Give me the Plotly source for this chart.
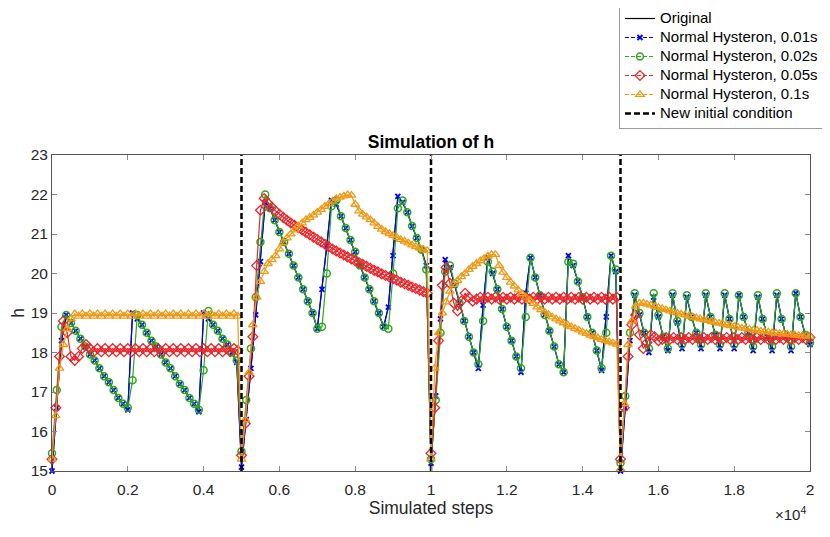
import plotly.graph_objects as go

# step spacing of the sampled points
STEP_FAST = 125   # 0.01s / 0.02s hysterons (and original)
STEP_SLOW = 100   # 0.05s / 0.1s hysterons

ic_steps = [5000, 10000, 15000]
x_tickvals = [0, 2000, 4000, 6000, 8000, 10000, 12000, 14000, 16000, 18000, 20000]
x_ticktext = ['0', '0.2', '0.4', '0.6', '0.8', '1', '1.2', '1.4', '1.6', '1.8', '2']

# Normal Hysteron, 0.01s
h_001 = [
    15.0, 16.6, 18.3, 18.95, 18.75, 18.55, 18.35, 18.15, 17.95, 17.8,
    17.6, 17.4, 17.25, 17.05, 16.85, 16.7, 16.55, 19.0, 18.85, 18.7,
    18.5, 18.3, 18.15, 17.95, 17.75, 17.6, 17.4, 17.2, 17.05, 16.85,
    16.7, 16.5, 19.0, 18.85, 18.7, 18.55, 18.35, 18.2, 18.0, 17.75,
    15.1, 16.3, 17.6, 18.95, 20.3, 21.8, 21.65, 21.35, 21.05, 20.8,
    20.5, 20.2, 19.9, 19.6, 19.3, 19.0, 18.6, 19.6, 20.7, 21.85,
    21.75, 21.45, 21.15, 20.85, 20.55, 20.2, 19.9, 19.6, 19.3, 19.0,
    18.65, 19.15, 20.45, 21.95, 21.8, 21.55, 21.2, 20.9, 20.6, 20.2,
    15.2, 16.9, 18.85, 20.35, 20.15, 19.7, 19.25, 18.8, 18.4, 18.0,
    17.6, 19.2, 20.4, 20.0, 19.6, 19.1, 18.65, 18.3, 17.9, 17.5,
    19.5, 20.4, 19.9, 19.45, 18.95, 18.55, 18.15, 17.7, 17.5, 20.45,
    20.2, 19.8, 19.4, 18.9, 18.5, 18.05, 17.55, 18.9, 20.45, 20.05,
    15.0, 16.6, 18.3, 19.45, 18.95, 18.5, 18.0, 19.4, 18.9, 18.4,
    18.05, 19.45, 18.75, 18.1, 19.4, 18.9, 18.5, 18.1, 19.45, 18.9,
    18.45, 18.1, 19.45, 18.85, 18.1, 19.45, 18.9, 18.5, 18.05, 19.4,
    18.85, 18.4, 18.05, 19.45, 18.85, 18.4, 18.05, 19.5, 18.9, 18.45,
    18.2,
]

# the original system lies under the 0.01s hysteron curve
h_original = h_001

# Normal Hysteron, 0.02s
h_002 = [
    15.45, 17.05, 18.65, 18.95, 18.75, 18.55, 18.35, 18.15, 17.95, 17.8,
    17.6, 17.4, 17.25, 17.05, 16.85, 16.7, 16.6, 17.3, 18.95, 18.7,
    18.5, 18.3, 18.15, 17.95, 17.75, 17.6, 17.4, 17.2, 17.05, 16.85,
    16.7, 16.55, 17.55, 19.05, 18.7, 18.55, 18.35, 18.2, 18.0, 17.8,
    15.5, 16.8, 18.1, 19.4, 20.8, 22.0, 21.65, 21.35, 21.05, 20.8,
    20.5, 20.2, 19.9, 19.6, 19.3, 19.0, 18.6, 18.65, 20.0, 21.7,
    21.85, 21.45, 21.15, 20.85, 20.55, 20.2, 19.9, 19.6, 19.3, 19.0,
    18.65, 18.6, 20.0, 21.65, 21.85, 21.55, 21.2, 20.9, 20.6, 20.1,
    15.3, 16.8, 18.5, 20.05, 20.2, 19.75, 19.25, 18.8, 18.4, 18.0,
    17.7, 18.8, 20.3, 20.05, 19.6, 19.1, 18.65, 18.3, 17.9, 17.6,
    18.9, 20.4, 19.9, 19.45, 18.95, 18.55, 18.15, 17.7, 17.5, 20.3,
    20.25, 19.8, 19.4, 18.9, 18.5, 18.05, 17.6, 18.5, 20.45, 20.1,
    15.2, 16.9, 18.5, 19.5, 19.0, 18.5, 18.1, 19.5, 18.95, 18.4,
    18.1, 19.5, 18.8, 18.2, 19.45, 18.9, 18.5, 18.2, 19.5, 18.9,
    18.45, 18.2, 19.5, 18.85, 18.2, 19.45, 18.9, 18.5, 18.15, 19.45,
    18.85, 18.4, 18.15, 19.5, 18.85, 18.4, 18.15, 19.5, 18.9, 18.45,
    18.25,
]

# Normal Hysteron, 0.05s
h_005 = [
    15.3, 16.6, 17.9, 18.8, 18.5, 17.9, 17.8, 17.9, 18.1, 18.2,
    18.1, 18.02, 18.1, 18.02, 18.1, 18.02, 18.1, 18.02, 18.1, 18.02,
    18.1, 18.02, 18.1, 18.02, 18.1, 18.02, 18.1, 18.02, 18.1, 18.02,
    18.1, 18.02, 18.1, 18.02, 18.1, 18.02, 18.1, 18.02, 18.1, 18.02,
    18.1, 18.02, 18.1, 18.02, 18.1, 18.02, 18.1, 18.02, 18.1, 18.05,
    15.4, 16.2, 17.4, 18.4, 20.2, 21.6, 21.9, 21.78, 21.68, 21.58,
    21.5, 21.42, 21.35, 21.28, 21.22, 21.16, 21.1, 21.04, 20.98, 20.92,
    20.86, 20.8, 20.74, 20.68, 20.62, 20.57, 20.52, 20.47, 20.42, 20.37,
    20.32, 20.28, 20.23, 20.18, 20.13, 20.08, 20.04, 19.99, 19.95, 19.91,
    19.87, 19.83, 19.78, 19.74, 19.7, 19.66, 19.62, 19.58, 19.54, 19.5,
    15.45, 16.6, 18.3, 19.7, 20.15, 19.75, 19.25, 19.05, 19.3, 19.5,
    19.4, 19.3, 19.35, 19.4, 19.35, 19.4, 19.35, 19.4, 19.35, 19.4,
    19.35, 19.4, 19.35, 19.4, 19.35, 19.4, 19.35, 19.4, 19.35, 19.4,
    19.35, 19.4, 19.35, 19.4, 19.35, 19.4, 19.35, 19.4, 19.35, 19.4,
    19.35, 19.4, 19.35, 19.4, 19.35, 19.4, 19.35, 19.4, 19.35, 19.4,
    15.3, 16.6, 17.9, 18.7, 18.95, 18.45, 18.1, 18.25, 18.45, 18.4,
    18.3, 18.33, 18.38, 18.33, 18.38, 18.33, 18.38, 18.33, 18.38, 18.33,
    18.38, 18.33, 18.38, 18.33, 18.38, 18.33, 18.38, 18.33, 18.38, 18.33,
    18.38, 18.33, 18.38, 18.33, 18.38, 18.33, 18.38, 18.33, 18.38, 18.33,
    18.38, 18.33, 18.38, 18.33, 18.38, 18.33, 18.38, 18.33, 18.38, 18.33,
    18.38,
]

# Normal Hysteron, 0.1s
h_01 = [
    15.3, 16.4, 17.6, 18.2, 18.6, 18.85, 18.98, 18.92, 18.98, 18.92,
    18.98, 18.92, 18.98, 18.92, 18.98, 18.92, 18.98, 18.92, 18.98, 18.92,
    18.98, 18.92, 18.98, 18.92, 18.98, 18.92, 18.98, 18.92, 18.98, 18.92,
    18.98, 18.92, 18.98, 18.92, 18.98, 18.92, 18.98, 18.92, 18.98, 18.92,
    18.98, 18.92, 18.98, 18.92, 18.98, 18.92, 18.98, 18.92, 18.98, 18.92,
    15.3, 16.3, 17.5, 18.7, 19.4, 19.8, 20.05, 20.25, 20.35, 20.45,
    20.62, 20.78, 20.9, 21.0, 21.1, 21.2, 21.28, 21.36, 21.42, 21.48,
    21.55, 21.62, 21.7, 21.76, 21.83, 21.9, 21.93, 21.96, 21.99, 21.98,
    21.75, 21.58, 21.5, 21.43, 21.36, 21.28, 21.19, 21.12, 21.06, 21.01,
    20.96, 20.91, 20.86, 20.82, 20.77, 20.72, 20.68, 20.64, 20.61, 20.58,
    15.3, 17.6, 18.5, 19.0, 19.28, 19.55, 19.72, 19.82, 19.92, 20.0,
    20.1, 20.18, 20.25, 20.32, 20.38, 20.44, 20.48, 20.48, 20.2, 20.03,
    19.9, 19.78, 19.68, 19.58, 19.49, 19.4, 19.32, 19.24, 19.15, 19.08,
    19.02, 18.96, 18.9, 18.85, 18.8, 18.75, 18.7, 18.65, 18.61, 18.57,
    18.52, 18.48, 18.44, 18.4, 18.37, 18.33, 18.3, 18.27, 18.24, 18.21,
    15.05, 16.7, 18.2, 18.8, 19.17, 19.25, 19.25, 19.22, 19.2, 19.17,
    19.14, 19.11, 19.08, 19.05, 19.02, 19.0, 18.97, 18.95, 18.92, 18.9,
    18.88, 18.85, 18.83, 18.81, 18.78, 18.76, 18.74, 18.72, 18.7, 18.68,
    18.66, 18.64, 18.62, 18.61, 18.59, 18.57, 18.56, 18.54, 18.53, 18.52,
    18.5, 18.49, 18.48, 18.47, 18.46, 18.45, 18.44, 18.43, 18.42, 18.42,
    18.41,
]

Y_MIN, Y_MAX = 15, 23
FONT = 'Liberation Sans, Arial, sans-serif'
AX_COLOR = '#262626'

# page body adds an 8px offset, so the figure is sized to the remaining area
FIG_W, FIG_H = 822, 529


def leg(name):
    # legend rows stay compact while the text itself is drawn at full size
    return f'<span style="font-size:15px">{name}</span>'


fig = go.Figure()

fig.add_trace(go.Scatter(y=h_original, x0=0, dx=STEP_FAST, mode='lines',
                         name=leg('Original'), line=dict(color='black', width=1.2)))

# hysteron series: solid in the plot, dashed sample in the legend (legend-only twin)
hyst = [
    (h_001, STEP_FAST, 'Normal Hysteron, 0.01s', '#0000ff', 'x-thin-open', 5, 1.8),
    (h_002, STEP_FAST, 'Normal Hysteron, 0.02s', '#2ea81c', 'circle-open', 7, 1.5),
    (h_005, STEP_SLOW, 'Normal Hysteron, 0.05s', '#e8262b', 'diamond-open', 7.5, 1.3),
    (h_01, STEP_SLOW, 'Normal Hysteron, 0.1s', '#ee9a16', 'triangle-up-open', 7.5, 1.3),
]
for vals, step, name, color, symbol, size, mlw in hyst:
    marker = dict(symbol=symbol, size=size, line=dict(color=color, width=mlw))
    fig.add_trace(go.Scatter(y=vals, x0=0, dx=step, mode='lines+markers',
                             name=name, legendgroup=name, showlegend=False,
                             cliponaxis=False,
                             line=dict(color=color, width=1.2), marker=marker))
    fig.add_trace(go.Scatter(x=[None], y=[None], mode='lines+markers',
                             name=leg(name), legendgroup=name,
                             line=dict(color=color, width=1.2, dash='4px,2px'),
                             marker=marker))

# vertical markers for the new initial conditions
ic_x, ic_y = [], []
for s in ic_steps:
    ic_x += [s, s, None]
    ic_y += [Y_MIN, Y_MAX, None]
fig.add_trace(go.Scatter(x=ic_x, y=ic_y, mode='lines', name=leg('New initial condition'),
                         line=dict(color='black', width=2.5, dash='6px,3px')))

axis_style = dict(showline=True, linecolor='#555555', linewidth=1, mirror='ticks',
                  ticks='inside', ticklen=5, tickcolor='#888888', showgrid=False,
                  zeroline=False, tickfont=dict(size=15.5, color=AX_COLOR))

fig.update_layout(
    width=FIG_W, height=FIG_H,
    margin=dict(l=44, r=20, t=147, b=66, autoexpand=False),
    paper_bgcolor='white', plot_bgcolor='white',
    font=dict(family=FONT, size=15, color=AX_COLOR),
    title=dict(text='<b>Simulation of h</b>', x=0.5, xref='paper', xanchor='center',
               y=1 - 134 / FIG_H, yref='container', yanchor='middle',
               font=dict(size=17.5, color='black')),
    xaxis=dict(range=[0, 20000], tickvals=x_tickvals, ticktext=x_ticktext,
               ticklabelstandoff=4,
               title=dict(text='Simulated steps', font=dict(size=17.5), standoff=3),
               **axis_style),
    yaxis=dict(range=[Y_MIN, Y_MAX], dtick=1,
               title=dict(text='h', font=dict(size=17.5), standoff=5),
               **axis_style),
    legend=dict(x=0.748, y=1.481, xanchor='left', yanchor='top',
                bgcolor='white', bordercolor='#9a9a9a', borderwidth=1,
                font=dict(size=12, color='black'), itemwidth=30, tracegroupgap=0),
    annotations=[dict(text='\u00d710<sup>4</sup>', xref='paper', yref='paper',
                      x=0.997, y=-0.135, xanchor='right', yanchor='middle',
                      showarrow=False, font=dict(size=15, color=AX_COLOR))],
)

fig.write_html("out.html")
